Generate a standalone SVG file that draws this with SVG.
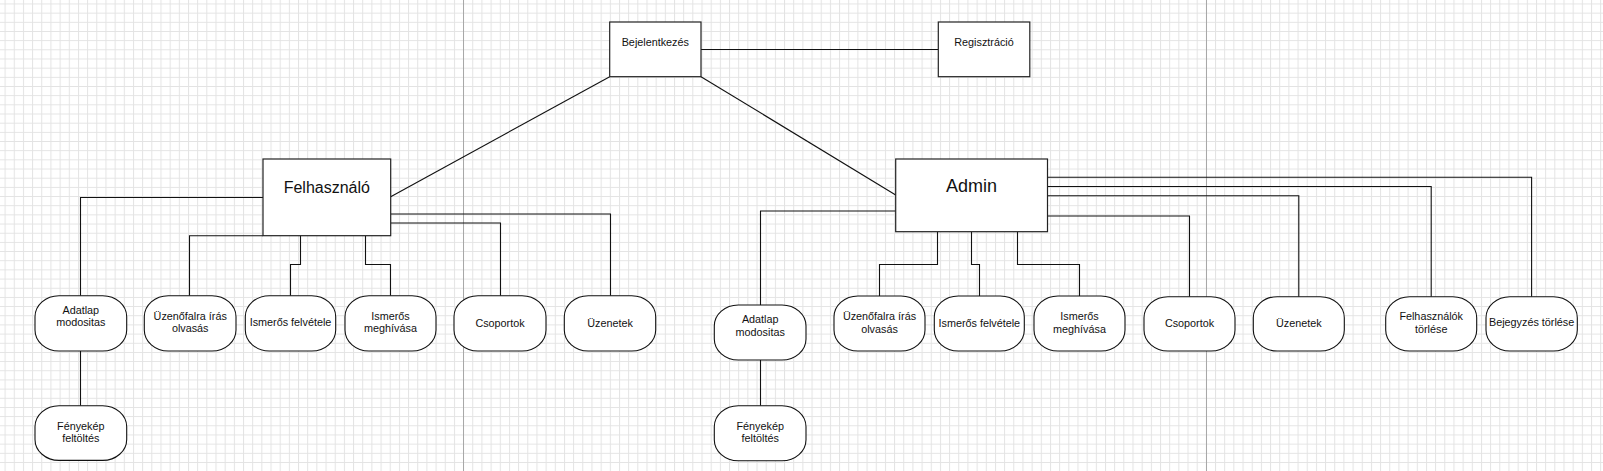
<svg xmlns="http://www.w3.org/2000/svg" width="1603" height="471" viewBox="0 0 1603 471">
<style>
.box{fill:#fff;stroke:#222;stroke-width:1.2}
.nd{fill:#fff;stroke:#111;stroke-width:1.1}
.t{font-family:"Liberation Sans",Arial,sans-serif;font-size:10.8px;fill:#111;text-anchor:middle}
.big{font-size:16px}
.bigger{font-size:18px}
.c{fill:none;stroke:#111;stroke-width:1.1}
</style>
<defs>
<pattern id="grid" patternUnits="userSpaceOnUse" x="4.6" y="3.5" width="9.17" height="9.17">
<path d="M0.5 0V9.17M0 0.5H9.17" fill="none" stroke="#e3e3e3" stroke-width="1"/>
</pattern>
</defs>
<rect width="1603" height="471" fill="#fff"/>
<rect width="1603" height="471" fill="url(#grid)"/>
<path d="M463.5 0V471M1206.5 0V471" stroke="#a8a8a8" stroke-width="1"/>

<g id="connectors">
<path class="c" d="M701 49.5H938.3"/>
<path class="c" d="M609.7 76.7L390.7 196.7"/>
<path class="c" d="M701 76.7L895.7 195"/>
<path class="c" d="M263 197.5H80.5V295.7"/>
<path class="c" d="M80.5 351V405.7"/>
<path class="c" d="M263 235.7H189.5V295.7"/>
<path class="c" d="M300.5 232V264.5H290.5V295.7"/>
<path class="c" d="M365.5 235.7V264.5H390.5V295.7"/>
<path class="c" d="M390.7 214H610.5V295.7"/>
<path class="c" d="M390.7 223H500.5V295.7"/>
<path class="c" d="M895.7 211H760.5V305"/>
<path class="c" d="M760.5 360V405.7"/>
<path class="c" d="M937.5 231.7V264.5H879.5V296"/>
<path class="c" d="M971.5 231.7V264.5H979.5V296"/>
<path class="c" d="M1017.5 231.7V264.5H1079.5V296"/>
<path class="c" d="M1047.5 216H1189.5V296.7"/>
<path class="c" d="M1047.5 195.7H1298.8V296.7"/>
<path class="c" d="M1047.5 186.5H1431.2V296.7"/>
<path class="c" d="M1047.5 177.3H1531.6V296.7"/>
</g>

<g id="bejelentkezes"><rect class="box" x="609.7" y="22" width="91.3" height="54.7"/><text class="t" x="655.3" y="45.7">Bejelentkezés</text></g>
<g id="regisztracio"><rect class="box" x="938.3" y="22" width="91.5" height="54.7"/><text class="t" x="984" y="45.7">Regisztráció</text></g>
<g id="felhasznalo"><rect class="box" x="263" y="159" width="127.7" height="76.7"/><text class="t big" x="326.8" y="193.3">Felhasználó</text></g>
<g id="admin"><rect class="box" x="895.7" y="159" width="151.8" height="72.7"/><text class="t bigger" x="971.6" y="191.7">Admin</text></g>

<g id="f-adatlap"><rect class="nd" x="35" y="295.7" width="91.7" height="55.3" rx="24" ry="21"/><text class="t" x="80.8" y="314">Adatlap</text><text class="t" x="80.8" y="326">modositas</text></g>
<g id="f-fenykep"><rect class="nd" x="35" y="405.7" width="91.7" height="54.7" rx="24" ry="21"/><text class="t" x="80.8" y="430">Fényekép</text><text class="t" x="80.8" y="441.7">feltöltés</text></g>
<g id="f-uzenofal"><rect class="nd" x="144.3" y="295.7" width="91.7" height="55.3" rx="24" ry="21"/><text class="t" x="190.2" y="320">Üzenőfalra írás</text><text class="t" x="190.2" y="332.3">olvasás</text></g>
<g id="f-ism-felv"><rect class="nd" x="245.3" y="295.7" width="90.4" height="55.3" rx="24" ry="21"/><text class="t" x="290.5" y="325.7">Ismerős felvétele</text></g>
<g id="f-ism-megh"><rect class="nd" x="345" y="295.7" width="91" height="55.3" rx="24" ry="21"/><text class="t" x="390.5" y="319.5">Ismerős</text><text class="t" x="390.5" y="331.7">meghívása</text></g>
<g id="f-csoportok"><rect class="nd" x="454" y="295.7" width="92" height="55.3" rx="24" ry="21"/><text class="t" x="500" y="326.7">Csoportok</text></g>
<g id="f-uzenetek"><rect class="nd" x="564.3" y="295.7" width="91.4" height="55.3" rx="24" ry="21"/><text class="t" x="610" y="326.7">Üzenetek</text></g>

<g id="a-adatlap"><rect class="nd" x="714.3" y="305" width="91.7" height="55" rx="24" ry="21"/><text class="t" x="760.2" y="323.3">Adatlap</text><text class="t" x="760.2" y="335.5">modositas</text></g>
<g id="a-fenykep"><rect class="nd" x="714.3" y="405.7" width="91.7" height="55" rx="24" ry="21"/><text class="t" x="760.2" y="430">Fényekép</text><text class="t" x="760.2" y="441.7">feltöltés</text></g>
<g id="a-uzenofal"><rect class="nd" x="834" y="296" width="91" height="55" rx="24" ry="21"/><text class="t" x="879.5" y="320">Üzenőfalra írás</text><text class="t" x="879.5" y="332.5">olvasás</text></g>
<g id="a-ism-felv"><rect class="nd" x="934.3" y="296" width="90" height="55" rx="24" ry="21"/><text class="t" x="979.3" y="326.5">Ismerős felvétele</text></g>
<g id="a-ism-megh"><rect class="nd" x="1034" y="296" width="91" height="55" rx="24" ry="21"/><text class="t" x="1079.5" y="319.5">Ismerős</text><text class="t" x="1079.5" y="332.5">meghívása</text></g>
<g id="a-csoportok"><rect class="nd" x="1144" y="296.7" width="91" height="54.3" rx="24" ry="21"/><text class="t" x="1189.5" y="326.5">Csoportok</text></g>
<g id="a-uzenetek"><rect class="nd" x="1253.3" y="296.7" width="91" height="54.3" rx="24" ry="21"/><text class="t" x="1298.8" y="326.5">Üzenetek</text></g>
<g id="a-felh-torles"><rect class="nd" x="1385.7" y="296.7" width="91" height="54.3" rx="24" ry="21"/><text class="t" x="1431.2" y="320">Felhasználók</text><text class="t" x="1431.2" y="332.7">törlése</text></g>
<g id="a-bejegyzes-torles"><rect class="nd" x="1486" y="296.7" width="91.3" height="54.3" rx="24" ry="21"/><text class="t" x="1531.6" y="325.7">Bejegyzés törlése</text></g>
</svg>
